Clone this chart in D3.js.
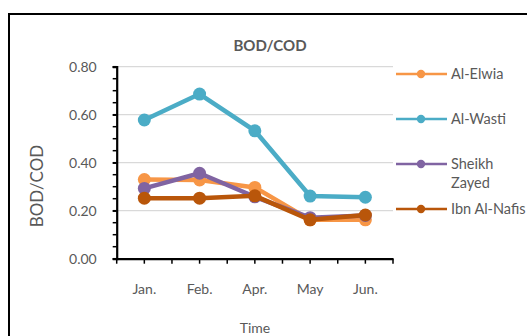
<!DOCTYPE html>
<html><head><meta charset="utf-8">
<script src="https://cdn.jsdelivr.net/npm/d3@7"></script>
<style>body{margin:0;background:#fff}svg{display:block;font-family:Lato,"Open Sans",sans-serif}</style>
</head><body><svg id="c" width="527" height="336"></svg>
<script>
const categories = ["Jan.", "Feb.", "Apr.", "May", "Jun."];
const seriesNames = ["Al-Elwia", "Al-Wasti", "Sheikh Zayed", "Ibn Al-Nafis"];
const alElwia = [0.330, 0.328, 0.297, 0.162, 0.162];
const alWasti = [0.578, 0.686, 0.533, 0.261, 0.256];
const sheikhZayed = [0.293, 0.356, 0.258, 0.171, 0.180];
const ibnAlNafis = [0.252, 0.252, 0.262, 0.162, 0.182];
const yTicks = [0, 0.2, 0.4, 0.6, 0.8];
const colors = ["#F79646", "#4BACC6", "#8064A2", "#B9560A"];
const seriesValues = [alElwia, alWasti, sheikhZayed, ibnAlNafis];

const svg = d3.select("#c");
const L = 116.7, R = 393, T = 66.7, B = 258.7;
svg.append("rect").attr("x", 9).attr("y", 14).attr("width", 600).attr("height", 400)
  .attr("fill", "none").attr("stroke", "#000").attr("stroke-width", 2);

const x = d3.scaleBand().domain(categories).range([L, R]);
const y = d3.scaleLinear().domain([0, 0.8]).range([B, T]);

svg.append("g").selectAll("line").data(yTicks.filter(d => d > 0)).join("line")
  .attr("x1", L).attr("x2", R).attr("y1", d => y(d)).attr("y2", d => y(d))
  .attr("stroke", "#D9D9D9").attr("stroke-width", 1.2);

const minor = d3.range(0, 0.801, 0.05);
svg.append("g").selectAll("line").data(minor).join("line")
  .attr("x1", L - 4).attr("x2", L).attr("y1", d => y(d)).attr("y2", d => y(d))
  .attr("stroke", "#000").attr("stroke-width", 1.5);

const yAxis = svg.append("g").attr("transform", `translate(${L},0)`)
  .call(d3.axisLeft(y).tickValues(yTicks).tickFormat(d3.format(".2f")).tickSize(4).tickPadding(16));
yAxis.select(".domain").attr("stroke", "#000").attr("stroke-width", 2.2);
yAxis.selectAll(".tick line").attr("stroke", "#000").attr("stroke-width", 1.5);
yAxis.selectAll("text").attr("fill", "#595959").attr("font-size", 14).attr("font-family", "Lato");

const xt = [];
categories.forEach(c => { xt.push(x(c)); xt.push(x(c) + x.bandwidth() / 2); });
xt.push(R);
svg.append("g").selectAll("line").data(xt).join("line")
  .attr("x1", d => d).attr("x2", d => d).attr("y1", B).attr("y2", B + 5)
  .attr("stroke", "#000").attr("stroke-width", 1.5);
const xAxis = svg.append("g").attr("transform", `translate(0,${B})`)
  .call(d3.axisBottom(x).tickSize(0).tickPadding(25));
xAxis.select(".domain").attr("stroke", "#000").attr("stroke-width", 2.2);
xAxis.selectAll("text").attr("fill", "#595959").attr("font-size", 14).attr("font-family", "Lato");

const line = d3.line().x((d, i) => x(categories[i]) + x.bandwidth() / 2).y(d => y(d));
seriesValues.forEach((vals, si) => {
  const g = svg.append("g");
  g.append("path").attr("d", line(vals)).attr("fill", "none")
    .attr("stroke", colors[si]).attr("stroke-width", 4.5).attr("stroke-linejoin", "round");
  g.selectAll("circle").data(vals).join("circle")
    .attr("cx", (d, i) => x(categories[i]) + x.bandwidth() / 2).attr("cy", d => y(d))
    .attr("r", 6.5).attr("fill", colors[si]);
});

svg.append("text").attr("x", 270).attr("y", 51).attr("text-anchor", "middle")
  .attr("font-size", 15).attr("font-weight", "bold").attr("fill", "#595959").text("BOD/COD");
svg.append("text").attr("x", 255).attr("y", 333).attr("text-anchor", "middle")
  .attr("font-size", 14).attr("fill", "#595959").text("Time");
svg.append("text").attr("transform", "translate(43,186) rotate(-90)").attr("text-anchor", "middle")
  .attr("font-size", 17).attr("fill", "#595959").text("BOD/COD");

const legY = [74, 119, 164, 209];
seriesNames.forEach((n, i) => {
  const g = svg.append("g");
  g.append("line").attr("x1", 396).attr("x2", 447).attr("y1", legY[i]).attr("y2", legY[i])
    .attr("stroke", colors[i]).attr("stroke-width", 2.5);
  g.append("circle").attr("cx", 421).attr("cy", legY[i]).attr("r", 4.2).attr("fill", colors[i]);
  const words = n === "Sheikh Zayed" ? ["Sheikh", "Zayed"] : [n];
  words.forEach((w, k) => {
    g.append("text").attr("x", 451).attr("y", legY[i] + 5 + k * 19)
      .attr("font-size", 14.5).attr("fill", "#595959").text(w);
  });
});
</script></body></html>
